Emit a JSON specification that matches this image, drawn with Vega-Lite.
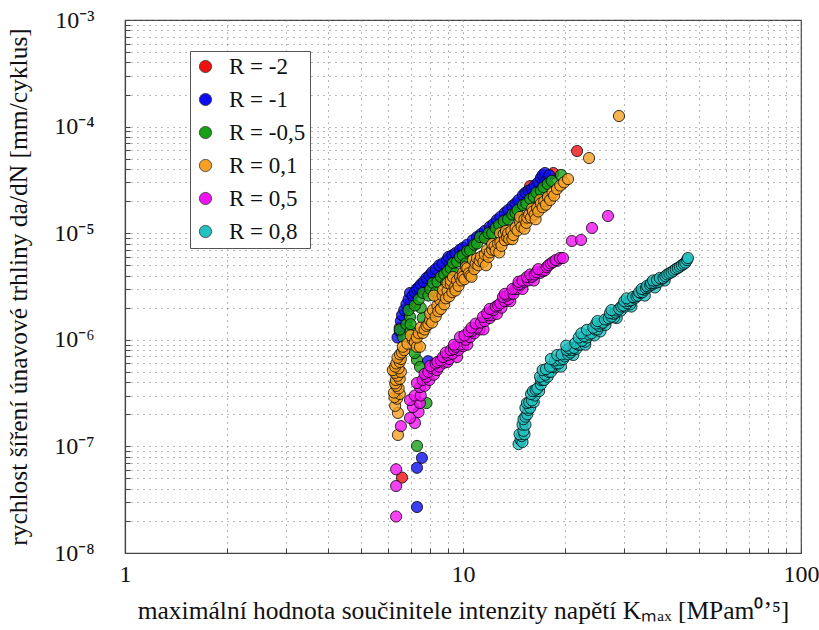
{
  "$schema": "https://vega.github.io/schema/vega-lite/v6.json",
  "width": 676,
  "height": 533,
  "autosize": {"type": "none"},
  "padding": {"left": 125, "top": 20, "right": 18, "bottom": 77},
  "background": "white",
  "config": {
    "font": "Liberation Serif",
    "view": {"stroke": "#444", "strokeWidth": 1.2}
  },
  "data": {
    "values": [
      {"R": "R = -2", "K": 6.6, "v": 5.1e-8},
      {"R": "R = -2", "K": 6.5, "v": 1.3e-6},
      {"R": "R = -2", "K": 7.0, "v": 2.2e-6},
      {"R": "R = -2", "K": 7.6, "v": 3.0e-6},
      {"R": "R = -2", "K": 8.3, "v": 4.0e-6},
      {"R": "R = -2", "K": 9.0, "v": 4.8e-6},
      {"R": "R = -2", "K": 9.8, "v": 5.8e-6},
      {"R": "R = -2", "K": 10.6, "v": 7.4e-6},
      {"R": "R = -2", "K": 11.5, "v": 9.2e-6},
      {"R": "R = -2", "K": 12.5, "v": 1.15e-5},
      {"R": "R = -2", "K": 13.5, "v": 1.4e-5},
      {"R": "R = -2", "K": 14.5, "v": 1.8e-5},
      {"R": "R = -2", "K": 15.8, "v": 2.77e-5},
      {"R": "R = -2", "K": 17.2, "v": 2.9e-5},
      {"R": "R = -2", "K": 18.5, "v": 3.67e-5},
      {"R": "R = -2", "K": 21.75, "v": 5.9e-5},

      {"R": "R = -1", "K": 7.56, "v": 7.8e-8},
      {"R": "R = -1", "K": 7.31, "v": 6.3e-8},
      {"R": "R = -1", "K": 7.31, "v": 2.7e-8},
      {"R": "R = -1", "K": 7.88, "v": 6.3e-7},
      {"R": "R = -1", "K": 6.4, "v": 1.05e-6},
      {"R": "R = -1", "K": 6.5, "v": 1.2e-6},
      {"R": "R = -1", "K": 6.55, "v": 1.5e-6},
      {"R": "R = -1", "K": 6.6, "v": 1.7e-6},
      {"R": "R = -1", "K": 6.7, "v": 1.9e-6},
      {"R": "R = -1", "K": 6.8, "v": 2.15e-6},
      {"R": "R = -1", "K": 6.9, "v": 2.4e-6},
      {"R": "R = -1", "K": 6.97, "v": 2.75e-6},
      {"R": "R = -1", "K": 7.1, "v": 2.6e-6},
      {"R": "R = -1", "K": 7.2, "v": 2.8e-6},
      {"R": "R = -1", "K": 7.3, "v": 3.0e-6},
      {"R": "R = -1", "K": 7.4, "v": 3.1e-6},
      {"R": "R = -1", "K": 7.5, "v": 3.3e-6},
      {"R": "R = -1", "K": 7.65, "v": 3.5e-6},
      {"R": "R = -1", "K": 7.8, "v": 3.8e-6},
      {"R": "R = -1", "K": 7.95, "v": 4.0e-6},
      {"R": "R = -1", "K": 8.1, "v": 4.3e-6},
      {"R": "R = -1", "K": 8.3, "v": 4.6e-6},
      {"R": "R = -1", "K": 8.5, "v": 5.0e-6},
      {"R": "R = -1", "K": 8.7, "v": 5.2e-6},
      {"R": "R = -1", "K": 8.97, "v": 5.6e-6},
      {"R": "R = -1", "K": 9.06, "v": 6.0e-6},
      {"R": "R = -1", "K": 9.3, "v": 6.2e-6},
      {"R": "R = -1", "K": 9.5, "v": 6.5e-6},
      {"R": "R = -1", "K": 9.8, "v": 7.0e-6},
      {"R": "R = -1", "K": 10.0, "v": 7.3e-6},
      {"R": "R = -1", "K": 10.3, "v": 7.8e-6},
      {"R": "R = -1", "K": 10.7, "v": 8.6e-6},
      {"R": "R = -1", "K": 11.0, "v": 9.2e-6},
      {"R": "R = -1", "K": 11.3, "v": 9.8e-6},
      {"R": "R = -1", "K": 11.6, "v": 1.05e-5},
      {"R": "R = -1", "K": 12.0, "v": 1.15e-5},
      {"R": "R = -1", "K": 12.3, "v": 1.22e-5},
      {"R": "R = -1", "K": 12.6, "v": 1.33e-5},
      {"R": "R = -1", "K": 12.9, "v": 1.42e-5},
      {"R": "R = -1", "K": 13.3, "v": 1.55e-5},
      {"R": "R = -1", "K": 13.6, "v": 1.65e-5},
      {"R": "R = -1", "K": 14.0, "v": 1.8e-5},
      {"R": "R = -1", "K": 14.3, "v": 1.9e-5},
      {"R": "R = -1", "K": 14.6, "v": 2.05e-5},
      {"R": "R = -1", "K": 15.05, "v": 2.28e-5},
      {"R": "R = -1", "K": 15.3, "v": 2.4e-5},
      {"R": "R = -1", "K": 15.6, "v": 2.5e-5},
      {"R": "R = -1", "K": 16.0, "v": 2.6e-5},
      {"R": "R = -1", "K": 16.3, "v": 2.8e-5},
      {"R": "R = -1", "K": 16.7, "v": 3.0e-5},
      {"R": "R = -1", "K": 17.0, "v": 3.3e-5},
      {"R": "R = -1", "K": 17.2, "v": 3.5e-5},
      {"R": "R = -1", "K": 17.48, "v": 3.67e-5},
      {"R": "R = -1", "K": 17.48, "v": 3.02e-5},
      {"R": "R = -1", "K": 18.0, "v": 3.5e-5},

      {"R": "R = -0,5", "K": 7.31, "v": 1.01e-7},
      {"R": "R = -0,5", "K": 7.8, "v": 2.55e-7},
      {"R": "R = -0,5", "K": 7.31, "v": 6.46e-7},
      {"R": "R = -0,5", "K": 7.46, "v": 5.56e-7},
      {"R": "R = -0,5", "K": 7.2, "v": 7.5e-7},
      {"R": "R = -0,5", "K": 6.64, "v": 1.06e-6},
      {"R": "R = -0,5", "K": 6.5, "v": 1.25e-6},
      {"R": "R = -0,5", "K": 6.8, "v": 1.4e-6},
      {"R": "R = -0,5", "K": 6.97, "v": 1.64e-6},
      {"R": "R = -0,5", "K": 7.0, "v": 1.2e-6},
      {"R": "R = -0,5", "K": 7.0, "v": 1.4e-6},
      {"R": "R = -0,5", "K": 6.9, "v": 1.9e-6},
      {"R": "R = -0,5", "K": 7.6, "v": 1.6e-6},
      {"R": "R = -0,5", "K": 7.5, "v": 2.0e-6},
      {"R": "R = -0,5", "K": 7.2, "v": 2.1e-6},
      {"R": "R = -0,5", "K": 7.4, "v": 2.4e-6},
      {"R": "R = -0,5", "K": 7.61, "v": 2.75e-6},
      {"R": "R = -0,5", "K": 7.9, "v": 2.6e-6},
      {"R": "R = -0,5", "K": 8.0, "v": 3.0e-6},
      {"R": "R = -0,5", "K": 8.15, "v": 3.41e-6},
      {"R": "R = -0,5", "K": 8.3, "v": 2.8e-6},
      {"R": "R = -0,5", "K": 8.4, "v": 3.5e-6},
      {"R": "R = -0,5", "K": 8.6, "v": 3.9e-6},
      {"R": "R = -0,5", "K": 8.8, "v": 4.1e-6},
      {"R": "R = -0,5", "K": 8.9, "v": 3.4e-6},
      {"R": "R = -0,5", "K": 9.0, "v": 4.4e-6},
      {"R": "R = -0,5", "K": 9.2, "v": 4.7e-6},
      {"R": "R = -0,5", "K": 9.34, "v": 5.25e-6},
      {"R": "R = -0,5", "K": 9.5, "v": 4.2e-6},
      {"R": "R = -0,5", "K": 9.6, "v": 5.4e-6},
      {"R": "R = -0,5", "K": 9.8, "v": 6.0e-6},
      {"R": "R = -0,5", "K": 10.0, "v": 6.2e-6},
      {"R": "R = -0,5", "K": 10.2, "v": 5.2e-6},
      {"R": "R = -0,5", "K": 10.3, "v": 6.8e-6},
      {"R": "R = -0,5", "K": 10.5, "v": 6.9e-6},
      {"R": "R = -0,5", "K": 10.8, "v": 7.8e-6},
      {"R": "R = -0,5", "K": 11.0, "v": 8.0e-6},
      {"R": "R = -0,5", "K": 11.23, "v": 9.2e-6},
      {"R": "R = -0,5", "K": 11.6, "v": 9.0e-6},
      {"R": "R = -0,5", "K": 11.9, "v": 1.0e-5},
      {"R": "R = -0,5", "K": 12.2, "v": 1.0e-5},
      {"R": "R = -0,5", "K": 12.5, "v": 1.12e-5},
      {"R": "R = -0,5", "K": 12.8, "v": 1.2e-5},
      {"R": "R = -0,5", "K": 13.2, "v": 1.3e-5},
      {"R": "R = -0,5", "K": 13.6, "v": 1.35e-5},
      {"R": "R = -0,5", "K": 14.0, "v": 1.5e-5},
      {"R": "R = -0,5", "K": 14.3, "v": 1.55e-5},
      {"R": "R = -0,5", "K": 14.5, "v": 1.65e-5},
      {"R": "R = -0,5", "K": 15.05, "v": 1.84e-5},
      {"R": "R = -0,5", "K": 15.4, "v": 1.9e-5},
      {"R": "R = -0,5", "K": 15.8, "v": 2.1e-5},
      {"R": "R = -0,5", "K": 16.2, "v": 2.2e-5},
      {"R": "R = -0,5", "K": 16.5, "v": 2.4e-5},
      {"R": "R = -0,5", "K": 17.0, "v": 2.5e-5},
      {"R": "R = -0,5", "K": 17.3, "v": 2.7e-5},
      {"R": "R = -0,5", "K": 17.8, "v": 2.9e-5},
      {"R": "R = -0,5", "K": 18.3, "v": 3.1e-5},
      {"R": "R = -0,5", "K": 19.5, "v": 3.52e-5},

      {"R": "R = 0,1", "K": 6.42, "v": 1.28e-7},
      {"R": "R = 0,1", "K": 6.42, "v": 2.06e-7},
      {"R": "R = 0,1", "K": 6.3, "v": 2.4e-7},
      {"R": "R = 0,1", "K": 6.38, "v": 2.8e-7},
      {"R": "R = 0,1", "K": 6.27, "v": 2.9e-7},
      {"R": "R = 0,1", "K": 6.5, "v": 3.1e-7},
      {"R": "R = 0,1", "K": 6.25, "v": 3.2e-7},
      {"R": "R = 0,1", "K": 6.45, "v": 3.5e-7},
      {"R": "R = 0,1", "K": 6.35, "v": 3.7e-7},
      {"R": "R = 0,1", "K": 6.3, "v": 3.9e-7},
      {"R": "R = 0,1", "K": 6.33, "v": 4.2e-7},
      {"R": "R = 0,1", "K": 6.5, "v": 4.3e-7},
      {"R": "R = 0,1", "K": 6.4, "v": 4.6e-7},
      {"R": "R = 0,1", "K": 6.29, "v": 4.9e-7},
      {"R": "R = 0,1", "K": 6.55, "v": 5.0e-7},
      {"R": "R = 0,1", "K": 6.2, "v": 5.2e-7},
      {"R": "R = 0,1", "K": 6.45, "v": 5.4e-7},
      {"R": "R = 0,1", "K": 6.3, "v": 5.6e-7},
      {"R": "R = 0,1", "K": 6.35, "v": 6.0e-7},
      {"R": "R = 0,1", "K": 6.5, "v": 6.2e-7},
      {"R": "R = 0,1", "K": 6.55, "v": 6.6e-7},
      {"R": "R = 0,1", "K": 6.4, "v": 6.8e-7},
      {"R": "R = 0,1", "K": 6.51, "v": 7.3e-7},
      {"R": "R = 0,1", "K": 6.6, "v": 7.6e-7},
      {"R": "R = 0,1", "K": 6.7, "v": 8.0e-7},
      {"R": "R = 0,1", "K": 6.64, "v": 8.6e-7},
      {"R": "R = 0,1", "K": 6.85, "v": 9.2e-7},
      {"R": "R = 0,1", "K": 7.11, "v": 1.0e-6},
      {"R": "R = 0,1", "K": 7.0, "v": 1.1e-6},
      {"R": "R = 0,1", "K": 7.2, "v": 9.5e-7},
      {"R": "R = 0,1", "K": 7.3, "v": 8.6e-7},
      {"R": "R = 0,1", "K": 7.46, "v": 8.6e-7},
      {"R": "R = 0,1", "K": 7.3, "v": 1.05e-6},
      {"R": "R = 0,1", "K": 7.4, "v": 1.15e-6},
      {"R": "R = 0,1", "K": 7.61, "v": 1.16e-6},
      {"R": "R = 0,1", "K": 7.5, "v": 1.3e-6},
      {"R": "R = 0,1", "K": 7.7, "v": 1.25e-6},
      {"R": "R = 0,1", "K": 7.8, "v": 1.35e-6},
      {"R": "R = 0,1", "K": 7.9, "v": 1.4e-6},
      {"R": "R = 0,1", "K": 7.99, "v": 1.53e-6},
      {"R": "R = 0,1", "K": 8.0, "v": 1.75e-6},
      {"R": "R = 0,1", "K": 8.1, "v": 1.45e-6},
      {"R": "R = 0,1", "K": 8.15, "v": 1.9e-6},
      {"R": "R = 0,1", "K": 8.3, "v": 1.65e-6},
      {"R": "R = 0,1", "K": 8.4, "v": 2.1e-6},
      {"R": "R = 0,1", "K": 8.45, "v": 1.85e-6},
      {"R": "R = 0,1", "K": 8.5, "v": 2.5e-6},
      {"R": "R = 0,1", "K": 8.55, "v": 2.36e-6},
      {"R": "R = 0,1", "K": 8.6, "v": 1.95e-6},
      {"R": "R = 0,1", "K": 8.2, "v": 2.6e-6},
      {"R": "R = 0,1", "K": 8.7, "v": 2.6e-6},
      {"R": "R = 0,1", "K": 8.8, "v": 2.15e-6},
      {"R": "R = 0,1", "K": 8.73, "v": 2.93e-6},
      {"R": "R = 0,1", "K": 8.9, "v": 2.45e-6},
      {"R": "R = 0,1", "K": 9.0, "v": 2.9e-6},
      {"R": "R = 0,1", "K": 9.0, "v": 3.4e-6},
      {"R": "R = 0,1", "K": 9.1, "v": 2.55e-6},
      {"R": "R = 0,1", "K": 9.2, "v": 3.3e-6},
      {"R": "R = 0,1", "K": 9.2, "v": 3.6e-6},
      {"R": "R = 0,1", "K": 9.3, "v": 2.8e-6},
      {"R": "R = 0,1", "K": 9.34, "v": 3.88e-6},
      {"R": "R = 0,1", "K": 9.45, "v": 3.1e-6},
      {"R": "R = 0,1", "K": 9.5, "v": 2.9e-6},
      {"R": "R = 0,1", "K": 9.6, "v": 3.6e-6},
      {"R": "R = 0,1", "K": 9.7, "v": 3.2e-6},
      {"R": "R = 0,1", "K": 9.8, "v": 3.9e-6},
      {"R": "R = 0,1", "K": 9.9, "v": 3.6e-6},
      {"R": "R = 0,1", "K": 10.0, "v": 4.3e-6},
      {"R": "R = 0,1", "K": 10.0, "v": 3.9e-6},
      {"R": "R = 0,1", "K": 10.1, "v": 3.7e-6},
      {"R": "R = 0,1", "K": 10.2, "v": 4.8e-6},
      {"R": "R = 0,1", "K": 10.3, "v": 4.7e-6},
      {"R": "R = 0,1", "K": 10.4, "v": 4.2e-6},
      {"R": "R = 0,1", "K": 10.5, "v": 4.0e-6},
      {"R": "R = 0,1", "K": 10.6, "v": 3.9e-6},
      {"R": "R = 0,1", "K": 10.7, "v": 5.6e-6},
      {"R": "R = 0,1", "K": 10.8, "v": 4.6e-6},
      {"R": "R = 0,1", "K": 10.9, "v": 5.2e-6},
      {"R": "R = 0,1", "K": 11.0, "v": 5.8e-6},
      {"R": "R = 0,1", "K": 11.1, "v": 5.0e-6},
      {"R": "R = 0,1", "K": 11.2, "v": 5.5e-6},
      {"R": "R = 0,1", "K": 11.3, "v": 6.0e-6},
      {"R": "R = 0,1", "K": 11.5, "v": 5.4e-6},
      {"R": "R = 0,1", "K": 11.6, "v": 6.3e-6},
      {"R": "R = 0,1", "K": 11.7, "v": 5.0e-6},
      {"R": "R = 0,1", "K": 11.78, "v": 6.96e-6},
      {"R": "R = 0,1", "K": 11.9, "v": 6.0e-6},
      {"R": "R = 0,1", "K": 12.0, "v": 6.6e-6},
      {"R": "R = 0,1", "K": 12.2, "v": 7.0e-6},
      {"R": "R = 0,1", "K": 12.2, "v": 7.9e-6},
      {"R": "R = 0,1", "K": 12.4, "v": 7.6e-6},
      {"R": "R = 0,1", "K": 12.5, "v": 6.9e-6},
      {"R": "R = 0,1", "K": 12.7, "v": 8.0e-6},
      {"R": "R = 0,1", "K": 12.8, "v": 6.6e-6},
      {"R": "R = 0,1", "K": 12.87, "v": 1.0e-5},
      {"R": "R = 0,1", "K": 12.9, "v": 8.2e-6},
      {"R": "R = 0,1", "K": 13.0, "v": 7.6e-6},
      {"R": "R = 0,1", "K": 13.2, "v": 9.8e-6},
      {"R": "R = 0,1", "K": 13.3, "v": 8.6e-6},
      {"R": "R = 0,1", "K": 13.4, "v": 1.05e-5},
      {"R": "R = 0,1", "K": 13.5, "v": 9.2e-6},
      {"R": "R = 0,1", "K": 13.6, "v": 1.0e-5},
      {"R": "R = 0,1", "K": 13.7, "v": 8.8e-6},
      {"R": "R = 0,1", "K": 13.9, "v": 1.05e-5},
      {"R": "R = 0,1", "K": 14.0, "v": 8.8e-6},
      {"R": "R = 0,1", "K": 14.1, "v": 9.6e-6},
      {"R": "R = 0,1", "K": 14.3, "v": 1.12e-5},
      {"R": "R = 0,1", "K": 14.5, "v": 1.06e-5},
      {"R": "R = 0,1", "K": 14.75, "v": 1.27e-5},
      {"R": "R = 0,1", "K": 14.75, "v": 1.42e-5},
      {"R": "R = 0,1", "K": 14.9, "v": 1.15e-5},
      {"R": "R = 0,1", "K": 15.2, "v": 1.35e-5},
      {"R": "R = 0,1", "K": 15.2, "v": 1.1e-5},
      {"R": "R = 0,1", "K": 15.4, "v": 1.25e-5},
      {"R": "R = 0,1", "K": 15.5, "v": 1.4e-5},
      {"R": "R = 0,1", "K": 15.7, "v": 1.5e-5},
      {"R": "R = 0,1", "K": 15.9, "v": 1.4e-5},
      {"R": "R = 0,1", "K": 16.0, "v": 1.7e-5},
      {"R": "R = 0,1", "K": 16.1, "v": 1.6e-5},
      {"R": "R = 0,1", "K": 16.3, "v": 1.5e-5},
      {"R": "R = 0,1", "K": 16.4, "v": 1.35e-5},
      {"R": "R = 0,1", "K": 16.56, "v": 1.72e-5},
      {"R": "R = 0,1", "K": 16.7, "v": 1.6e-5},
      {"R": "R = 0,1", "K": 16.9, "v": 2.05e-5},
      {"R": "R = 0,1", "K": 17.0, "v": 1.9e-5},
      {"R": "R = 0,1", "K": 17.2, "v": 1.75e-5},
      {"R": "R = 0,1", "K": 17.4, "v": 2.0e-5},
      {"R": "R = 0,1", "K": 17.6, "v": 1.85e-5},
      {"R": "R = 0,1", "K": 17.84, "v": 2.19e-5},
      {"R": "R = 0,1", "K": 18.1, "v": 2.05e-5},
      {"R": "R = 0,1", "K": 18.4, "v": 2.4e-5},
      {"R": "R = 0,1", "K": 18.6, "v": 2.25e-5},
      {"R": "R = 0,1", "K": 18.97, "v": 2.6e-5},
      {"R": "R = 0,1", "K": 19.4, "v": 2.8e-5},
      {"R": "R = 0,1", "K": 19.9, "v": 3.0e-5},
      {"R": "R = 0,1", "K": 20.45, "v": 3.22e-5},
      {"R": "R = 0,1", "K": 23.6, "v": 5.07e-5},
      {"R": "R = 0,1", "K": 28.94, "v": 1.257e-4},

      {"R": "R = 0,5", "K": 6.34, "v": 6.1e-8},
      {"R": "R = 0,5", "K": 6.34, "v": 4.25e-8},
      {"R": "R = 0,5", "K": 6.34, "v": 2.2e-8},
      {"R": "R = 0,5", "K": 6.55, "v": 1.55e-7},
      {"R": "R = 0,5", "K": 7.21, "v": 1.66e-7},
      {"R": "R = 0,5", "K": 6.97, "v": 1.85e-7},
      {"R": "R = 0,5", "K": 7.39, "v": 2.1e-7},
      {"R": "R = 0,5", "K": 7.11, "v": 2.34e-7},
      {"R": "R = 0,5", "K": 7.46, "v": 2.55e-7},
      {"R": "R = 0,5", "K": 6.97, "v": 2.72e-7},
      {"R": "R = 0,5", "K": 7.2, "v": 3.0e-7},
      {"R": "R = 0,5", "K": 7.5, "v": 3.0e-7},
      {"R": "R = 0,5", "K": 7.46, "v": 3.6e-7},
      {"R": "R = 0,5", "K": 7.7, "v": 3.7e-7},
      {"R": "R = 0,5", "K": 7.31, "v": 3.93e-7},
      {"R": "R = 0,5", "K": 7.6, "v": 4.2e-7},
      {"R": "R = 0,5", "K": 7.95, "v": 4.2e-7},
      {"R": "R = 0,5", "K": 7.8, "v": 4.5e-7},
      {"R": "R = 0,5", "K": 7.7, "v": 4.8e-7},
      {"R": "R = 0,5", "K": 8.2, "v": 4.7e-7},
      {"R": "R = 0,5", "K": 7.9, "v": 5.0e-7},
      {"R": "R = 0,5", "K": 8.1, "v": 5.4e-7},
      {"R": "R = 0,5", "K": 8.38, "v": 5.2e-7},
      {"R": "R = 0,5", "K": 8.5, "v": 5.6e-7},
      {"R": "R = 0,5", "K": 8.0, "v": 5.7e-7},
      {"R": "R = 0,5", "K": 8.3, "v": 6.0e-7},
      {"R": "R = 0,5", "K": 8.8, "v": 6.1e-7},
      {"R": "R = 0,5", "K": 8.4, "v": 6.2e-7},
      {"R": "R = 0,5", "K": 9.0, "v": 6.2e-7},
      {"R": "R = 0,5", "K": 8.6, "v": 6.4e-7},
      {"R": "R = 0,5", "K": 9.1, "v": 6.6e-7},
      {"R": "R = 0,5", "K": 8.73, "v": 6.9e-7},
      {"R": "R = 0,5", "K": 9.6, "v": 6.9e-7},
      {"R": "R = 0,5", "K": 9.0, "v": 7.2e-7},
      {"R": "R = 0,5", "K": 9.3, "v": 7.4e-7},
      {"R": "R = 0,5", "K": 8.9, "v": 7.6e-7},
      {"R": "R = 0,5", "K": 9.2, "v": 8.0e-7},
      {"R": "R = 0,5", "K": 9.7, "v": 8.0e-7},
      {"R": "R = 0,5", "K": 9.4, "v": 8.2e-7},
      {"R": "R = 0,5", "K": 9.5, "v": 8.6e-7},
      {"R": "R = 0,5", "K": 10.0, "v": 8.7e-7},
      {"R": "R = 0,5", "K": 9.8, "v": 9.0e-7},
      {"R": "R = 0,5", "K": 10.3, "v": 9.0e-7},
      {"R": "R = 0,5", "K": 9.4, "v": 9.0e-7},
      {"R": "R = 0,5", "K": 10.2, "v": 1.0e-6},
      {"R": "R = 0,5", "K": 9.8, "v": 1.06e-6},
      {"R": "R = 0,5", "K": 10.49, "v": 1.06e-6},
      {"R": "R = 0,5", "K": 10.1, "v": 1.1e-6},
      {"R": "R = 0,5", "K": 10.8, "v": 1.15e-6},
      {"R": "R = 0,5", "K": 10.6, "v": 1.2e-6},
      {"R": "R = 0,5", "K": 10.4, "v": 1.2e-6},
      {"R": "R = 0,5", "K": 11.2, "v": 1.25e-6},
      {"R": "R = 0,5", "K": 11.5, "v": 1.25e-6},
      {"R": "R = 0,5", "K": 11.0, "v": 1.3e-6},
      {"R": "R = 0,5", "K": 10.6, "v": 1.3e-6},
      {"R": "R = 0,5", "K": 10.9, "v": 1.42e-6},
      {"R": "R = 0,5", "K": 11.3, "v": 1.45e-6},
      {"R": "R = 0,5", "K": 11.6, "v": 1.5e-6},
      {"R": "R = 0,5", "K": 12.0, "v": 1.6e-6},
      {"R": "R = 0,5", "K": 11.46, "v": 1.64e-6},
      {"R": "R = 0,5", "K": 12.2, "v": 1.7e-6},
      {"R": "R = 0,5", "K": 11.9, "v": 1.7e-6},
      {"R": "R = 0,5", "K": 12.6, "v": 1.75e-6},
      {"R": "R = 0,5", "K": 11.78, "v": 1.78e-6},
      {"R": "R = 0,5", "K": 12.3, "v": 1.9e-6},
      {"R": "R = 0,5", "K": 12.0, "v": 1.95e-6},
      {"R": "R = 0,5", "K": 13.0, "v": 2.0e-6},
      {"R": "R = 0,5", "K": 12.5, "v": 2.05e-6},
      {"R": "R = 0,5", "K": 12.7, "v": 2.1e-6},
      {"R": "R = 0,5", "K": 12.9, "v": 2.2e-6},
      {"R": "R = 0,5", "K": 13.3, "v": 2.3e-6},
      {"R": "R = 0,5", "K": 13.8, "v": 2.3e-6},
      {"R": "R = 0,5", "K": 13.6, "v": 2.4e-6},
      {"R": "R = 0,5", "K": 13.13, "v": 2.52e-6},
      {"R": "R = 0,5", "K": 13.5, "v": 2.6e-6},
      {"R": "R = 0,5", "K": 13.8, "v": 2.7e-6},
      {"R": "R = 0,5", "K": 13.3, "v": 2.7e-6},
      {"R": "R = 0,5", "K": 14.1, "v": 2.7e-6},
      {"R": "R = 0,5", "K": 14.3, "v": 3.0e-6},
      {"R": "R = 0,5", "K": 14.5, "v": 3.0e-6},
      {"R": "R = 0,5", "K": 15.0, "v": 3.0e-6},
      {"R": "R = 0,5", "K": 14.0, "v": 3.0e-6},
      {"R": "R = 0,5", "K": 14.8, "v": 3.3e-6},
      {"R": "R = 0,5", "K": 14.6, "v": 3.3e-6},
      {"R": "R = 0,5", "K": 15.2, "v": 3.5e-6},
      {"R": "R = 0,5", "K": 14.6, "v": 3.5e-6},
      {"R": "R = 0,5", "K": 15.0, "v": 3.6e-6},
      {"R": "R = 0,5", "K": 15.6, "v": 3.6e-6},
      {"R": "R = 0,5", "K": 16.2, "v": 3.6e-6},
      {"R": "R = 0,5", "K": 15.46, "v": 3.88e-6},
      {"R": "R = 0,5", "K": 16.0, "v": 3.9e-6},
      {"R": "R = 0,5", "K": 15.8, "v": 4.1e-6},
      {"R": "R = 0,5", "K": 16.3, "v": 4.1e-6},
      {"R": "R = 0,5", "K": 16.9, "v": 4.23e-6},
      {"R": "R = 0,5", "K": 16.5, "v": 4.3e-6},
      {"R": "R = 0,5", "K": 17.2, "v": 4.4e-6},
      {"R": "R = 0,5", "K": 17.48, "v": 4.5e-6},
      {"R": "R = 0,5", "K": 16.7, "v": 4.6e-6},
      {"R": "R = 0,5", "K": 17.7, "v": 4.8e-6},
      {"R": "R = 0,5", "K": 17.9, "v": 5.0e-6},
      {"R": "R = 0,5", "K": 18.2, "v": 5.2e-6},
      {"R": "R = 0,5", "K": 18.46, "v": 5.37e-6},
      {"R": "R = 0,5", "K": 19.0, "v": 5.5e-6},
      {"R": "R = 0,5", "K": 18.8, "v": 5.6e-6},
      {"R": "R = 0,5", "K": 19.36, "v": 5.85e-6},
      {"R": "R = 0,5", "K": 19.76, "v": 5.85e-6},
      {"R": "R = 0,5", "K": 21.0, "v": 8.45e-6},
      {"R": "R = 0,5", "K": 22.35, "v": 8.64e-6},
      {"R": "R = 0,5", "K": 24.08, "v": 1.12e-5},
      {"R": "R = 0,5", "K": 26.85, "v": 1.45e-5},

      {"R": "R = 0,8", "K": 14.6, "v": 1.05e-7},
      {"R": "R = 0,8", "K": 14.8, "v": 1.15e-7},
      {"R": "R = 0,8", "K": 15.0, "v": 1.1e-7},
      {"R": "R = 0,8", "K": 14.9, "v": 1.25e-7},
      {"R": "R = 0,8", "K": 14.7, "v": 1.3e-7},
      {"R": "R = 0,8", "K": 15.2, "v": 1.3e-7},
      {"R": "R = 0,8", "K": 15.1, "v": 1.4e-7},
      {"R": "R = 0,8", "K": 15.0, "v": 1.6e-7},
      {"R": "R = 0,8", "K": 15.3, "v": 1.6e-7},
      {"R": "R = 0,8", "K": 15.1, "v": 1.8e-7},
      {"R": "R = 0,8", "K": 15.3, "v": 1.9e-7},
      {"R": "R = 0,8", "K": 15.5, "v": 2.0e-7},
      {"R": "R = 0,8", "K": 15.6, "v": 2.2e-7},
      {"R": "R = 0,8", "K": 15.3, "v": 2.3e-7},
      {"R": "R = 0,8", "K": 15.8, "v": 2.3e-7},
      {"R": "R = 0,8", "K": 15.46, "v": 2.55e-7},
      {"R": "R = 0,8", "K": 15.7, "v": 2.6e-7},
      {"R": "R = 0,8", "K": 16.2, "v": 2.6e-7},
      {"R": "R = 0,8", "K": 16.0, "v": 2.7e-7},
      {"R": "R = 0,8", "K": 16.3, "v": 3.0e-7},
      {"R": "R = 0,8", "K": 15.9, "v": 3.1e-7},
      {"R": "R = 0,8", "K": 16.1, "v": 3.3e-7},
      {"R": "R = 0,8", "K": 16.8, "v": 3.3e-7},
      {"R": "R = 0,8", "K": 16.4, "v": 3.4e-7},
      {"R": "R = 0,8", "K": 16.6, "v": 3.5e-7},
      {"R": "R = 0,8", "K": 17.0, "v": 3.8e-7},
      {"R": "R = 0,8", "K": 17.0, "v": 4.2e-7},
      {"R": "R = 0,8", "K": 17.25, "v": 4.2e-7},
      {"R": "R = 0,8", "K": 17.4, "v": 4.2e-7},
      {"R": "R = 0,8", "K": 16.9, "v": 4.5e-7},
      {"R": "R = 0,8", "K": 17.8, "v": 4.5e-7},
      {"R": "R = 0,8", "K": 17.5, "v": 4.7e-7},
      {"R": "R = 0,8", "K": 17.9, "v": 5.0e-7},
      {"R": "R = 0,8", "K": 18.2, "v": 5.0e-7},
      {"R": "R = 0,8", "K": 17.2, "v": 5.2e-7},
      {"R": "R = 0,8", "K": 17.6, "v": 5.3e-7},
      {"R": "R = 0,8", "K": 18.7, "v": 5.5e-7},
      {"R": "R = 0,8", "K": 18.4, "v": 5.6e-7},
      {"R": "R = 0,8", "K": 18.1, "v": 5.6e-7},
      {"R": "R = 0,8", "K": 19.5, "v": 5.6e-7},
      {"R": "R = 0,8", "K": 18.9, "v": 6.0e-7},
      {"R": "R = 0,8", "K": 19.2, "v": 6.0e-7},
      {"R": "R = 0,8", "K": 18.7, "v": 6.4e-7},
      {"R": "R = 0,8", "K": 19.4, "v": 6.5e-7},
      {"R": "R = 0,8", "K": 19.8, "v": 6.6e-7},
      {"R": "R = 0,8", "K": 18.2, "v": 6.6e-7},
      {"R": "R = 0,8", "K": 20.0, "v": 7.0e-7},
      {"R": "R = 0,8", "K": 21.2, "v": 7.2e-7},
      {"R": "R = 0,8", "K": 19.0, "v": 7.2e-7},
      {"R": "R = 0,8", "K": 19.6, "v": 7.3e-7},
      {"R": "R = 0,8", "K": 20.5, "v": 7.3e-7},
      {"R": "R = 0,8", "K": 20.8, "v": 7.6e-7},
      {"R": "R = 0,8", "K": 20.3, "v": 8.0e-7},
      {"R": "R = 0,8", "K": 21.0, "v": 8.0e-7},
      {"R": "R = 0,8", "K": 21.6, "v": 8.2e-7},
      {"R": "R = 0,8", "K": 20.6, "v": 8.3e-7},
      {"R": "R = 0,8", "K": 21.3, "v": 8.4e-7},
      {"R": "R = 0,8", "K": 20.2, "v": 8.8e-7},
      {"R": "R = 0,8", "K": 21.9, "v": 9.0e-7},
      {"R": "R = 0,8", "K": 22.3, "v": 9.0e-7},
      {"R": "R = 0,8", "K": 23.0, "v": 9.0e-7},
      {"R": "R = 0,8", "K": 21.5, "v": 9.3e-7},
      {"R": "R = 0,8", "K": 23.0, "v": 9.6e-7},
      {"R": "R = 0,8", "K": 22.5, "v": 9.8e-7},
      {"R": "R = 0,8", "K": 22.0, "v": 1.05e-6},
      {"R": "R = 0,8", "K": 23.27, "v": 1.05e-6},
      {"R": "R = 0,8", "K": 22.8, "v": 1.08e-6},
      {"R": "R = 0,8", "K": 24.5, "v": 1.1e-6},
      {"R": "R = 0,8", "K": 23.6, "v": 1.12e-6},
      {"R": "R = 0,8", "K": 24.0, "v": 1.15e-6},
      {"R": "R = 0,8", "K": 22.4, "v": 1.15e-6},
      {"R": "R = 0,8", "K": 25.5, "v": 1.2e-6},
      {"R": "R = 0,8", "K": 23.27, "v": 1.24e-6},
      {"R": "R = 0,8", "K": 24.6, "v": 1.25e-6},
      {"R": "R = 0,8", "K": 25.0, "v": 1.25e-6},
      {"R": "R = 0,8", "K": 24.3, "v": 1.3e-6},
      {"R": "R = 0,8", "K": 25.3, "v": 1.35e-6},
      {"R": "R = 0,8", "K": 26.4, "v": 1.38e-6},
      {"R": "R = 0,8", "K": 25.7, "v": 1.42e-6},
      {"R": "R = 0,8", "K": 24.8, "v": 1.42e-6},
      {"R": "R = 0,8", "K": 26.0, "v": 1.45e-6},
      {"R": "R = 0,8", "K": 25.0, "v": 1.5e-6},
      {"R": "R = 0,8", "K": 26.7, "v": 1.55e-6},
      {"R": "R = 0,8", "K": 26.3, "v": 1.55e-6},
      {"R": "R = 0,8", "K": 27.0, "v": 1.6e-6},
      {"R": "R = 0,8", "K": 28.5, "v": 1.6e-6},
      {"R": "R = 0,8", "K": 28.0, "v": 1.62e-6},
      {"R": "R = 0,8", "K": 27.5, "v": 1.65e-6},
      {"R": "R = 0,8", "K": 27.9, "v": 1.75e-6},
      {"R": "R = 0,8", "K": 27.22, "v": 1.78e-6},
      {"R": "R = 0,8", "K": 28.3, "v": 1.8e-6},
      {"R": "R = 0,8", "K": 28.7, "v": 1.88e-6},
      {"R": "R = 0,8", "K": 29.3, "v": 1.88e-6},
      {"R": "R = 0,8", "K": 27.5, "v": 1.9e-6},
      {"R": "R = 0,8", "K": 29.0, "v": 1.95e-6},
      {"R": "R = 0,8", "K": 29.4, "v": 2.05e-6},
      {"R": "R = 0,8", "K": 30.2, "v": 2.05e-6},
      {"R": "R = 0,8", "K": 31.5, "v": 2.05e-6},
      {"R": "R = 0,8", "K": 29.8, "v": 2.1e-6},
      {"R": "R = 0,8", "K": 31.2, "v": 2.15e-6},
      {"R": "R = 0,8", "K": 30.6, "v": 2.2e-6},
      {"R": "R = 0,8", "K": 30.0, "v": 2.3e-6},
      {"R": "R = 0,8", "K": 31.0, "v": 2.3e-6},
      {"R": "R = 0,8", "K": 31.4, "v": 2.35e-6},
      {"R": "R = 0,8", "K": 32.2, "v": 2.45e-6},
      {"R": "R = 0,8", "K": 30.5, "v": 2.45e-6},
      {"R": "R = 0,8", "K": 31.84, "v": 2.52e-6},
      {"R": "R = 0,8", "K": 32.6, "v": 2.55e-6},
      {"R": "R = 0,8", "K": 33.0, "v": 2.6e-6},
      {"R": "R = 0,8", "K": 34.5, "v": 2.6e-6},
      {"R": "R = 0,8", "K": 33.5, "v": 2.75e-6},
      {"R": "R = 0,8", "K": 33.2, "v": 2.8e-6},
      {"R": "R = 0,8", "K": 34.0, "v": 2.8e-6},
      {"R": "R = 0,8", "K": 34.4, "v": 2.95e-6},
      {"R": "R = 0,8", "K": 33.8, "v": 3.0e-6},
      {"R": "R = 0,8", "K": 34.8, "v": 3.05e-6},
      {"R": "R = 0,8", "K": 35.3, "v": 3.1e-6},
      {"R": "R = 0,8", "K": 37.0, "v": 3.1e-6},
      {"R": "R = 0,8", "K": 35.0, "v": 3.2e-6},
      {"R": "R = 0,8", "K": 35.8, "v": 3.25e-6},
      {"R": "R = 0,8", "K": 36.3, "v": 3.3e-6},
      {"R": "R = 0,8", "K": 36.0, "v": 3.4e-6},
      {"R": "R = 0,8", "K": 36.8, "v": 3.4e-6},
      {"R": "R = 0,8", "K": 37.5, "v": 3.45e-6},
      {"R": "R = 0,8", "K": 38.0, "v": 3.5e-6},
      {"R": "R = 0,8", "K": 39.5, "v": 3.6e-6},
      {"R": "R = 0,8", "K": 36.5, "v": 3.6e-6},
      {"R": "R = 0,8", "K": 37.5, "v": 3.64e-6},
      {"R": "R = 0,8", "K": 38.6, "v": 3.7e-6},
      {"R": "R = 0,8", "K": 38.2, "v": 3.8e-6},
      {"R": "R = 0,8", "K": 39.2, "v": 3.8e-6},
      {"R": "R = 0,8", "K": 39.7, "v": 3.95e-6},
      {"R": "R = 0,8", "K": 40.2, "v": 4.1e-6},
      {"R": "R = 0,8", "K": 40.8, "v": 4.2e-6},
      {"R": "R = 0,8", "K": 41.4, "v": 4.3e-6},
      {"R": "R = 0,8", "K": 42.0, "v": 4.45e-6},
      {"R": "R = 0,8", "K": 42.6, "v": 4.6e-6},
      {"R": "R = 0,8", "K": 43.2, "v": 4.7e-6},
      {"R": "R = 0,8", "K": 43.8, "v": 4.85e-6},
      {"R": "R = 0,8", "K": 44.4, "v": 5.0e-6},
      {"R": "R = 0,8", "K": 45.0, "v": 5.15e-6},
      {"R": "R = 0,8", "K": 45.5, "v": 5.3e-6},
      {"R": "R = 0,8", "K": 46.0, "v": 5.6e-6},
      {"R": "R = 0,8", "K": 46.3, "v": 5.85e-6}
    ]
  },
  "mark": {
    "type": "circle",
    "size": 125,
    "stroke": "#000",
    "strokeWidth": 0.9,
    "strokeOpacity": 0.85,
    "fillOpacity": 0.8
  },
  "encoding": {
    "x": {
      "field": "K",
      "type": "quantitative",
      "scale": {"type": "log", "domain": [1, 100], "nice": false},
      "axis": {
        "values": [1, 2, 3, 4, 5, 6, 7, 8, 9, 10, 20, 30, 40, 50, 60, 70, 80, 90, 100],
        "labelExpr": "datum.value == 1 ? '1' : datum.value == 10 ? '10' : datum.value == 100 ? '100' : ''",
        "labelFont": "Liberation Serif",
        "labelFontSize": 24,
        "labelColor": "#111",
        "labelPadding": 14,
        "labelFlush": false,
        "labelOverlap": false,
        "tickSize": -5,
        "tickColor": "#444",
        "domainColor": "#444",
        "domainWidth": 1.2,
        "grid": true,
        "gridColor": "#777",
        "gridWidth": 1,
        "gridDash": [1, 5],
        "title": "maximální hodnota součinitele intenzity napětí Kₘₐₓ [MPam⁰’⁵]",
        "titleFont": "Liberation Serif",
        "titleFontSize": 25.5,
        "titleFontWeight": "normal",
        "titleColor": "#111",
        "titlePadding": 12
      }
    },
    "y": {
      "field": "v",
      "type": "quantitative",
      "scale": {"type": "log", "domain": [1e-8, 1e-3], "nice": false},
      "axis": {
        "values": [1e-8, 2e-8, 3e-8, 4e-8, 5e-8, 6e-8, 7e-8, 8e-8, 9e-8,
                   1e-7, 2e-7, 3e-7, 4e-7, 5e-7, 6e-7, 7e-7, 8e-7, 9e-7,
                   1e-6, 2e-6, 3e-6, 4e-6, 5e-6, 6e-6, 7e-6, 8e-6, 9e-6,
                   1e-5, 2e-5, 3e-5, 4e-5, 5e-5, 6e-5, 7e-5, 8e-5, 9e-5,
                   1e-4, 2e-4, 3e-4, 4e-4, 5e-4, 6e-4, 7e-4, 8e-4, 9e-4, 1e-3],
        "labelExpr": "datum.value == 1e-8 ? '10⁻⁸' : datum.value == 1e-7 ? '10⁻⁷' : datum.value == 1e-6 ? '10⁻⁶' : datum.value == 1e-5 ? '10⁻⁵' : datum.value == 1e-4 ? '10⁻⁴' : datum.value == 1e-3 ? '10⁻³' : ''",
        "labelFont": "Liberation Serif",
        "labelFontSize": 24,
        "labelColor": "#111",
        "labelPadding": 36,
        "labelAlign": "right",
        "labelOverlap": false,
        "tickSize": -5,
        "tickColor": "#444",
        "domainColor": "#444",
        "domainWidth": 1.2,
        "grid": true,
        "gridColor": "#777",
        "gridWidth": 1,
        "gridDash": [1, 5],
        "title": "rychlost šíření únavové trhliny da/dN [mm/cyklus]",
        "titleFont": "Liberation Serif",
        "titleFontSize": 25.5,
        "titleFontWeight": "normal",
        "titleColor": "#111",
        "titlePadding": 22
      }
    },
    "color": {
      "field": "R",
      "type": "nominal",
      "sort": null,
      "scale": {
        "domain": ["R = -2", "R = -1", "R = -0,5", "R = 0,1", "R = 0,5", "R = 0,8"],
        "range": ["#ee1111", "#0c0cef", "#16a016", "#f5a023", "#f012f0", "#22c2c2"]
      },
      "legend": {
        "title": null,
        "orient": "none",
        "legendX": 65,
        "legendY": 31,
        "fillColor": "white",
        "strokeColor": "#555",
        "padding": 4,
        "rowPadding": 9,
        "labelOffset": 12,
        "labelFont": "Liberation Serif",
        "labelFontSize": 23,
        "labelColor": "#111",
        "symbolType": "circle",
        "symbolSize": 150,
        "symbolOpacity": 1,
        "symbolStrokeColor": "#333",
        "symbolStrokeWidth": 0.8
      }
    }
  }
}
